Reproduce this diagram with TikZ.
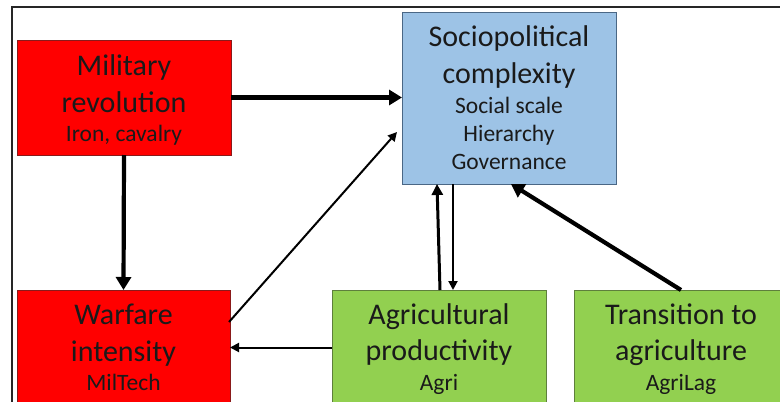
\documentclass[tikz,border=0pt]{standalone}
\usepackage{fontspec}
\setmainfont{Carlito}
\usetikzlibrary{arrows.meta,calc}
\definecolor{boxred}{HTML}{FF0000}
\definecolor{boxblue}{HTML}{9DC3E6}
\definecolor{boxgreen}{HTML}{92D050}
\definecolor{bordred}{HTML}{8A1A1A}
\definecolor{bordblue}{HTML}{4A6785}
\definecolor{bordgreen}{HTML}{5E7F3C}
\definecolor{textc}{HTML}{1A1A1A}
\begin{document}
\begin{tikzpicture}[x=1pt,y=-1pt,
  box/.style={rectangle,inner sep=0pt,outer sep=0pt,line width=1pt,minimum width=214pt,minimum height=115pt},
  mainline/.style={anchor=base,inner sep=0pt,text=textc,font=\fontsize{30}{36}\selectfont},
  subline/.style={anchor=base,inner sep=0pt,text=textc,font=\fontsize{23.5}{28}\selectfont},
  thickarr/.style={line width=4.2pt,-{Triangle[length=13pt,width=15pt]}},
  midarr/.style={line width=3pt,-{Triangle[length=11pt,width=11pt]}},
  thinarr/.style={line width=2pt,-{Triangle[length=9pt,width=9pt]}}]
\useasboundingbox (0,0) rectangle (780,402);
\clip (0,0) rectangle (780,402);
% frame
\draw[line width=2pt,black!85] (12,404) |- (782,7);
% boxes
\node[box,fill=boxred,draw=bordred] (mil) at (124,97.5) {};
\node[box,fill=boxblue,draw=bordblue,minimum height=172pt] (soc) at (509,98) {};
\node[box,fill=boxred,draw=bordred,minimum width=213pt] (war) at (123.5,347.5) {};
\node[box,fill=boxgreen,draw=bordgreen] (agri) at (439,347.5) {};
\node[box,fill=boxgreen,draw=bordgreen] (trans) at (681,347.5) {};
% texts
\node[mainline] (mil1) at (124,75) {Military};
\node[mainline] (mil2) at (124,112) {revolution};
\node[subline] (mil3) at (124,141.5) {Iron, cavalry};
\node[mainline] (soc1) at (509,46) {Sociopolitical};
\node[mainline] (soc2) at (509,83) {complexity};
\node[subline] (soc3) at (509,113) {Social scale};
\node[subline] (soc4) at (509,141.5) {Hierarchy};
\node[subline] (soc5) at (509,169.5) {Governance};
\node[mainline] (war1) at (123.5,324) {Warfare};
\node[mainline] (war2) at (123.5,361) {intensity};
\node[subline] (war3) at (123.5,390.5) {MilTech};
\node[mainline] (agri1) at (439,324) {Agricultural};
\node[mainline] (agri2) at (439,360.5) {productivity};
\node[subline] (agri3) at (439,390) {Agri};
\node[mainline] (trans1) at (681,324) {Transition to};
\node[mainline] (trans2) at (681,360.5) {agriculture};
\node[subline] (trans3) at (681,390) {AgriLag};
% connectors
\draw[thickarr] (mil.east) -- (mil.east -| soc.west);
\draw[thickarr] (mil.south) -- (war.north);
\draw[thinarr] ($(war.north east)+(-1,32)$) -- ($(soc.west)+(-5,34)$);
\draw[thinarr] (agri.west) -- (agri.west -| war.east);
\draw[midarr] ($(agri.north)+(1,0)$) -- ($(soc.south west)+(35,0)$);
\draw[thinarr] ($(soc.south west)+(51,0)$) -- ($(agri.north west)+(121,0)$);
\draw[thickarr] (trans.north) -- ($(soc.south)+(2,0)$);
\end{tikzpicture}
\end{document}
